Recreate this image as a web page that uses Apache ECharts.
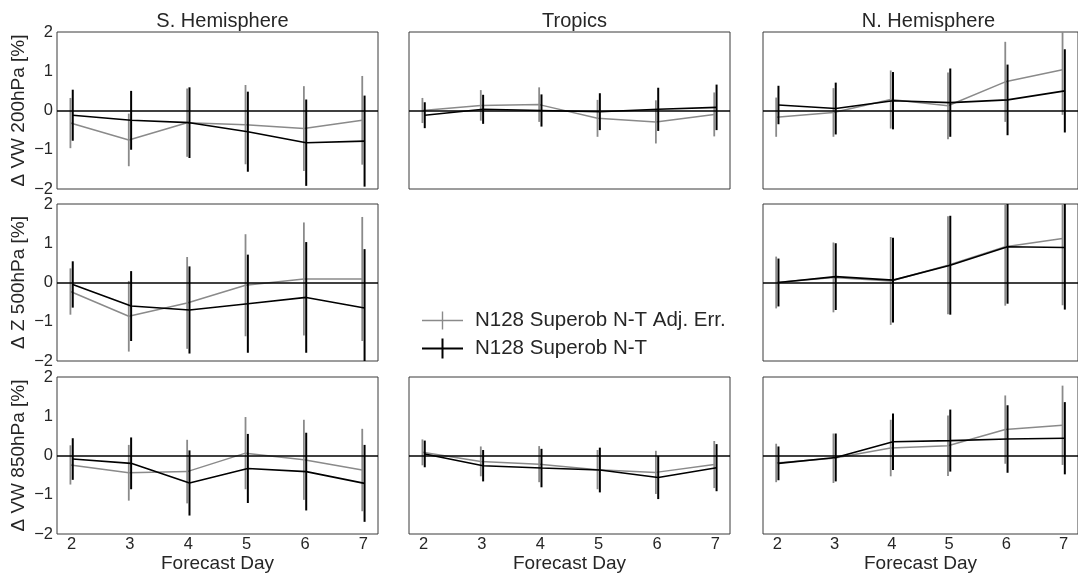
<!DOCTYPE html>
<html><head><meta charset="utf-8">
<script src="https://cdn.jsdelivr.net/npm/echarts@6/dist/echarts.min.js"></script>
<style>html,body{margin:0;padding:0;background:#fff}#c{width:1078px;height:577px}</style>
</head><body><div id="c"></div>
<script>
const days = [2, 3, 4, 5, 6, 7];
const xTicks = [2, 3, 4, 5, 6, 7];
const yTicks = [-2, -1, 0, 1, 2];
const regionTitles = ['S. Hemisphere', 'Tropics', 'N. Hemisphere'];
const rowNames = ['Δ VW 200hPa [%]', 'Δ Z 500hPa [%]', 'Δ VW 850hPa [%]'];
const seriesNames = ['N128 Superob N-T Adj. Err.', 'N128 Superob N-T'];

// S. Hemisphere VW 200hPa
const shVw200Adj = [-0.32, -0.75, -0.31, -0.36, -0.46, -0.25];
const shVw200AdjErr = [0.64, 0.67, 0.87, 1.01, 1.08, 1.13];
const shVw200Nt = [-0.12, -0.25, -0.31, -0.54, -0.82, -0.78];
const shVw200NtErr = [0.65, 0.75, 0.90, 1.02, 1.10, 1.16];
// Tropics VW 200hPa
const trVw200Adj = [0.00, 0.13, 0.15, -0.20, -0.29, -0.10];
const trVw200AdjErr = [0.32, 0.39, 0.44, 0.47, 0.55, 0.56];
const trVw200Nt = [-0.12, 0.03, 0.00, -0.03, 0.03, 0.08];
const trVw200NtErr = [0.33, 0.37, 0.41, 0.47, 0.55, 0.58];
// N. Hemisphere VW 200hPa
const nhVw200Adj = [-0.17, -0.05, 0.28, 0.12, 0.73, 1.04];
const nhVw200AdjErr = [0.50, 0.62, 0.74, 0.85, 1.02, 1.15];
const nhVw200Nt = [0.14, 0.05, 0.25, 0.20, 0.27, 0.50];
const nhVw200NtErr = [0.49, 0.66, 0.73, 0.87, 0.90, 1.06];
// S. Hemisphere Z 500hPa
const shZ500Adj = [-0.23, -0.86, -0.52, -0.07, 0.09, 0.09];
const shZ500AdjErr = [0.59, 0.90, 1.17, 1.30, 1.44, 1.58];
const shZ500Nt = [-0.05, -0.60, -0.70, -0.54, -0.38, -0.65];
const shZ500NtErr = [0.59, 0.89, 1.11, 1.25, 1.41, 1.50];
// N. Hemisphere Z 500hPa
const nhZ500Adj = [0.00, 0.13, 0.04, 0.44, 0.91, 1.12];
const nhZ500AdjErr = [0.66, 0.89, 1.12, 1.25, 1.50, 1.70];
const nhZ500Nt = [0.00, 0.15, 0.06, 0.44, 0.91, 0.89];
const nhZ500NtErr = [0.61, 0.85, 1.08, 1.26, 1.45, 1.58];
// S. Hemisphere VW 850hPa
const shVw850Adj = [-0.24, -0.44, -0.41, 0.06, -0.11, -0.37];
const shVw850AdjErr = [0.50, 0.71, 0.81, 0.92, 1.02, 1.05];
const shVw850Nt = [-0.09, -0.20, -0.70, -0.33, -0.41, -0.71];
const shVw850NtErr = [0.53, 0.66, 0.83, 0.88, 0.99, 0.98];
// Tropics VW 850hPa
const trVw850Adj = [0.08, -0.15, -0.22, -0.36, -0.43, -0.23];
const trVw850AdjErr = [0.33, 0.38, 0.46, 0.50, 0.55, 0.60];
const trVw850Nt = [0.04, -0.26, -0.32, -0.37, -0.56, -0.31];
const trVw850NtErr = [0.34, 0.40, 0.49, 0.57, 0.55, 0.60];
// N. Hemisphere VW 850hPa
const nhVw850Adj = [-0.19, -0.07, 0.19, 0.25, 0.66, 0.77];
const nhVw850AdjErr = [0.49, 0.63, 0.72, 0.77, 0.87, 1.01];
const nhVw850Nt = [-0.20, -0.05, 0.35, 0.38, 0.42, 0.44];
const nhVw850NtErr = [0.43, 0.61, 0.72, 0.79, 0.86, 0.92];

const panels = [
  {row: 0, col: 0, adj: shVw200Adj, adjErr: shVw200AdjErr, nt: shVw200Nt, ntErr: shVw200NtErr},
  {row: 0, col: 1, adj: trVw200Adj, adjErr: trVw200AdjErr, nt: trVw200Nt, ntErr: trVw200NtErr},
  {row: 0, col: 2, adj: nhVw200Adj, adjErr: nhVw200AdjErr, nt: nhVw200Nt, ntErr: nhVw200NtErr},
  {row: 1, col: 0, adj: shZ500Adj, adjErr: shZ500AdjErr, nt: shZ500Nt, ntErr: shZ500NtErr},
  {row: 1, col: 2, adj: nhZ500Adj, adjErr: nhZ500AdjErr, nt: nhZ500Nt, ntErr: nhZ500NtErr},
  {row: 2, col: 0, adj: shVw850Adj, adjErr: shVw850AdjErr, nt: shVw850Nt, ntErr: shVw850NtErr},
  {row: 2, col: 1, adj: trVw850Adj, adjErr: trVw850AdjErr, nt: trVw850Nt, ntErr: trVw850NtErr},
  {row: 2, col: 2, adj: nhVw850Adj, adjErr: nhVw850AdjErr, nt: nhVw850Nt, ntErr: nhVw850NtErr}
];

const FONT = "'Liberation Sans', Arial, sans-serif";
const TXT = '#262626';
const GRAY = '#8a8a8a';
const colLeft = [57, 409, 763];
const rowTop = [32, 204, 377];
const W = 321, H = 157;
const fmtMinus = v => String(v).replace('-', '\u2212');

const grid = [], xAxis = [], yAxis = [], series = [];

function errSeries(gi, name, xs, means, errs, color, width, z) {
  return {
    type: 'custom', name: name, xAxisIndex: gi, yAxisIndex: gi, silent: true, z: z,
    data: xs.map((x, i) => [x, means[i] - errs[i], means[i] + errs[i]]),
    encode: {x: 0, y: [1, 2]},
    renderItem: function (params, api) {
      const lo = api.coord([api.value(0), api.value(1)]);
      const hi = api.coord([api.value(0), api.value(2)]);
      const cs = params.coordSys;
      const clamp = y => Math.max(cs.y, Math.min(cs.y + cs.height, y));
      return {type: 'line', shape: {x1: lo[0], y1: clamp(lo[1]), x2: hi[0], y2: clamp(hi[1])},
        style: {stroke: color, lineWidth: width}};
    }
  };
}

panels.forEach((p, gi) => {
  grid.push({left: colLeft[p.col], top: rowTop[p.row], width: W, height: H, show: true,
    borderColor: '#3a3a3a', borderWidth: 1, backgroundColor: 'transparent'});
  const bottom = p.row === 2;
  xAxis.push({type: 'value', gridIndex: gi, min: 1.75, max: 7.25,
    axisLine: {show: false}, axisTick: {show: false}, splitLine: {show: false},
    axisLabel: {show: bottom, customValues: xTicks, fontSize: 16.5, color: TXT, fontFamily: FONT, margin: 2},
    name: bottom ? 'Forecast Day' : '', nameLocation: 'middle', nameGap: 20,
    nameTextStyle: {fontSize: 19, color: TXT, fontFamily: FONT}});
  const left = p.col === 0;
  yAxis.push({type: 'value', gridIndex: gi, min: -2, max: 2,
    axisLine: {show: false}, axisTick: {show: false}, splitLine: {show: false},
    axisLabel: {show: left, customValues: yTicks, formatter: fmtMinus, fontSize: 16.5, color: TXT, fontFamily: FONT, margin: 4},
    name: left ? rowNames[p.row] : '', nameLocation: 'middle', nameGap: 29,
    nameTextStyle: {fontSize: 19, color: TXT, fontFamily: FONT}});
  const xg = days.map(d => d - 0.02);
  const xb = days.map(d => d + 0.02);
  series.push(errSeries(gi, seriesNames[0], xg, p.adj, p.adjErr, GRAY, 1.8, 2));
  series.push({type: 'line', name: seriesNames[0], xAxisIndex: gi, yAxisIndex: gi, z: 3,
    data: xg.map((x, i) => [x, p.adj[i]]), symbol: 'none', silent: true,
    lineStyle: {color: GRAY, width: 1.5}, itemStyle: {color: GRAY}});
  series.push(errSeries(gi, seriesNames[1], xb, p.nt, p.ntErr, '#000', 2, 4));
  series.push({type: 'line', name: seriesNames[1], xAxisIndex: gi, yAxisIndex: gi, z: 5,
    data: xb.map((x, i) => [x, p.nt[i]]), symbol: 'none', silent: true,
    lineStyle: {color: '#000', width: 1.6}, itemStyle: {color: '#000'},
    markLine: {silent: true, symbol: 'none', label: {show: false}, animation: false,
      lineStyle: {color: '#000', width: 1.5, type: 'solid'}, data: [{yAxis: 0}]}});
});

const titles = regionTitles.map((t, i) => ({text: t, left: colLeft[i] + W / 2, top: 6, textAlign: 'center',
  textStyle: {fontSize: 20, fontWeight: 'normal', color: TXT, fontFamily: FONT}}));

const chart = echarts.init(document.getElementById('c'), null, {renderer: 'canvas'});
chart.setOption({
  animation: false,
  backgroundColor: '#fff',
  title: titles,
  grid: grid, xAxis: xAxis, yAxis: yAxis, series: series,
  legend: {
    left: 417, top: 305, orient: 'vertical', itemWidth: 41, itemHeight: 20, itemGap: 7,
    selectedMode: false,
    textStyle: {fontSize: 20.5, color: TXT, fontFamily: FONT, padding: [0, 0, 0, 7]},
    data: [
      {name: seriesNames[0], icon: 'path://M0,9.3H41V10.7H0Z M19.8,1H21.2V19H19.8Z', itemStyle: {color: GRAY, borderWidth: 0}},
      {name: seriesNames[1], icon: 'path://M0,9H41V11H0Z M19.5,0H21.5V20H19.5Z', itemStyle: {color: '#000', borderWidth: 0}}
    ]
  }
});
</script></body></html>
